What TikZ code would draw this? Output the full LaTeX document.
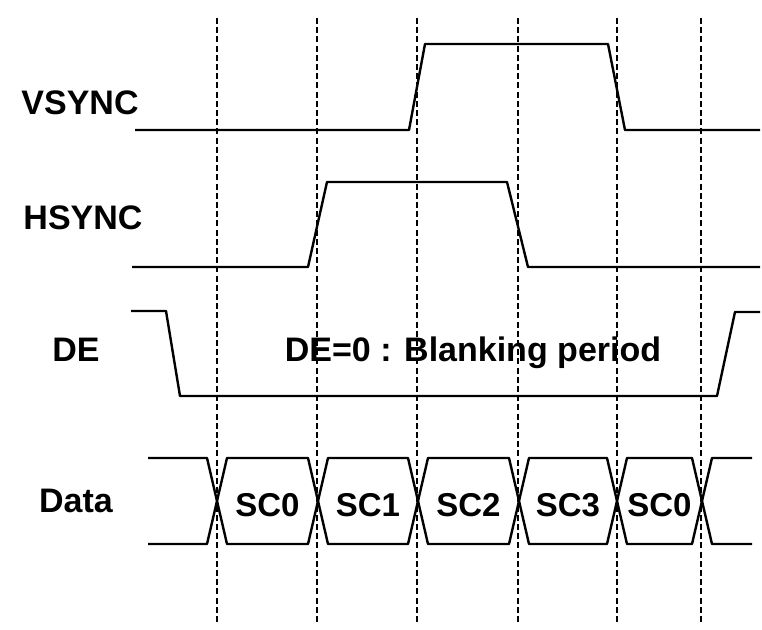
\documentclass[tikz,border=0pt]{standalone}
\usepackage{fontspec}
\setmainfont{Liberation Sans}
\usepackage{tikz}
\tikzset{
  wave/.style={line width=1.2pt, line join=round},
  guide/.style={line width=1pt, dash pattern=on 3pt off 1.6pt},
  signame/.style={font=\fontsize{17}{20}\selectfont\bfseries, anchor=base},
  slot/.style={font=\fontsize{16.5}{19}\selectfont\bfseries}
}

\begin{document}
\begin{tikzpicture}[x=0.5pt, y=-0.5pt]
  \useasboundingbox (0,0) rectangle (762,630);

  % dashed time marks
  \foreach \gx in {217,317,417,518,617,701}
    \draw[guide] (\gx,18) -- (\gx,622);

  % signal names
  \node[signame] (vsync) at (80,115) {VSYNC};
  \node[signame] (hsync) at (83,230) {HSYNC};
  \node[signame] (de) at (76,362) {DE};
  \node[signame] (data) at (76,513) {Data};
  \node[signame] (blank) at (473,362) {DE=0 : Blanking period};

  % waveforms
  \draw[wave] (135,130) -- (409,130) -- (425,44) -- (608,44) -- (625,130) -- (760,130);
  \draw[wave] (132,267) -- (308,267) -- (327,182) -- (507,182) -- (528,267) -- (760,267);
  \draw[wave] (131,311) -- (166,311) -- (180,396) -- (717,396) -- (735,312) -- (760,312);

  % data bus
  \draw[wave] (148,458) -- (207,458) -- (217,501) -- (207,544) -- (148,544);
  \draw[wave] (752,458) -- (712,458) -- (702,501) -- (712,544) -- (752,544);
  \foreach \a/\b/\t [count=\i] in {217/318/SC0, 318/418/SC1, 418/519/SC2, 519/617/SC3, 617/702/SC0} {
    \draw[wave] (\a,501) -- (\a+10,458) -- (\b-10,458) -- (\b,501) -- (\b-10,544) -- (\a+10,544) -- cycle;
    \node[slot] (sc\i) at ({(\a+\b)/2},505) {\t};
  }
\end{tikzpicture}
\end{document}
